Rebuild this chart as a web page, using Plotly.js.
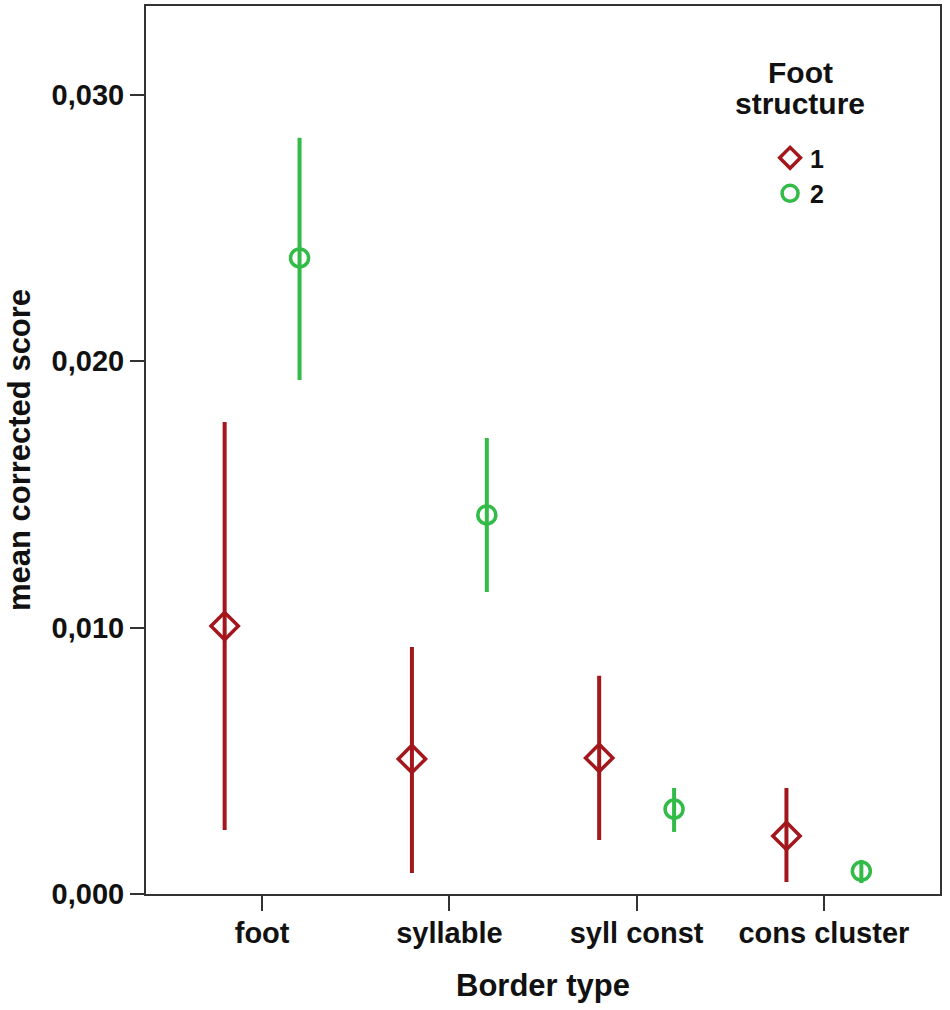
<!DOCTYPE html>
<html>
<head>
<meta charset="utf-8">
<script src="https://cdn.plot.ly/plotly-3.0.1.min.js"></script>
<style>html,body{margin:0;padding:0;background:#fff}#chart{width:950px;height:1010px}</style>
</head>
<body>
<div id="chart"></div>
<script>
const categories = ["foot", "syllable", "syll const", "cons cluster"];
const seriesNames = ["1", "2"];
const legendTitleLines = ["Foot", "structure"];
const mean1 = [0.01006, 0.00507, 0.00511, 0.00218];
const upper1 = [0.01772, 0.00927, 0.00819, 0.00398];
const lower1 = [0.00240, 0.00079, 0.00203, 0.00045];
const mean2 = [0.02388, 0.01423, 0.00319, 0.00086];
const upper2 = [0.02839, 0.01712, 0.00398, 0.00128];
const lower2 = [0.01930, 0.01134, 0.00233, 0.00041];
const yTicks = [0, 0.01, 0.02, 0.03];

const red = "#A3161C";
const green = "#33BB48";
const font = "Arial, 'Liberation Sans', sans-serif";

function pos(off) { return categories.map((c, i) => i + off); }
function errs(m, u, l) {
  return {
    type: "data", symmetric: false,
    array: u.map((v, i) => v - m[i]),
    arrayminus: m.map((v, i) => v - l[i]),
    thickness: 4, width: 0
  };
}

const traces = [
  {
    x: pos(-0.2), y: mean1, name: seriesNames[0], type: "scatter", mode: "markers",
    marker: { symbol: "diamond-open", size: 21, color: red, line: { width: 3.5, color: red } },
    error_y: Object.assign(errs(mean1, upper1, lower1), { color: red })
  },
  {
    x: pos(0.2), y: mean2, name: seriesNames[1], type: "scatter", mode: "markers",
    marker: { symbol: "circle-open", size: 18, color: green, line: { width: 3.5, color: green } },
    error_y: Object.assign(errs(mean2, upper2, lower2), { color: green })
  }
];

const layout = {
  width: 950, height: 1010,
  margin: { l: 146, r: 10, t: 6, b: 116 },
  paper_bgcolor: "#fff", plot_bgcolor: "#fff",
  separators: ",.",
  font: { family: font, color: "#111", size: 24 },
  showlegend: true,
  legend: {
    x: 0.786, y: 0.8547, xanchor: "left", yanchor: "top",
    font: { family: font, size: 25, color: "#111", weight: "bold" },
    tracegroupgap: 0, itemwidth: 30, bgcolor: "rgba(0,0,0,0)"
  },
  annotations: legendTitleLines.map((t, i) => ({
    text: "<b>" + t + "</b>", xref: "paper", yref: "paper",
    x: 0.824, y: 1 - (72 + 32 * i - 6) / 888, xanchor: "center", yanchor: "middle", showarrow: false,
    font: { family: font, size: 30, color: "#111" }
  })),
  xaxis: {
    range: [-0.62, 3.62], tickvals: categories.map((c, i) => i), ticktext: categories,
    showgrid: false, zeroline: false, showline: true, linecolor: "#333", linewidth: 2, mirror: true,
    ticks: "outside", ticklen: 15, tickwidth: 2, tickcolor: "#333", ticklabelstandoff: -3,
    tickfont: { family: font, size: 29, color: "#111", weight: "bold" },
    title: { text: "<b>Border type</b>", font: { family: font, size: 31, color: "#111" }, standoff: 27 }
  },
  yaxis: {
    range: [0, 0.03334], tickvals: yTicks, tickformat: ".3f",
    showgrid: false, zeroline: false, showline: true, linecolor: "#333", linewidth: 2, mirror: true,
    ticks: "outside", ticklen: 14, tickwidth: 2, tickcolor: "#333",
    tickfont: { family: font, size: 29, color: "#111", weight: "bold" },
    title: { text: "<b>mean corrected score</b>", font: { family: font, size: 31, color: "#111" }, standoff: 12 }
  }
};

Plotly.newPlot("chart", traces, layout, { staticPlot: true, displayModeBar: false });
</script>
</body>
</html>
